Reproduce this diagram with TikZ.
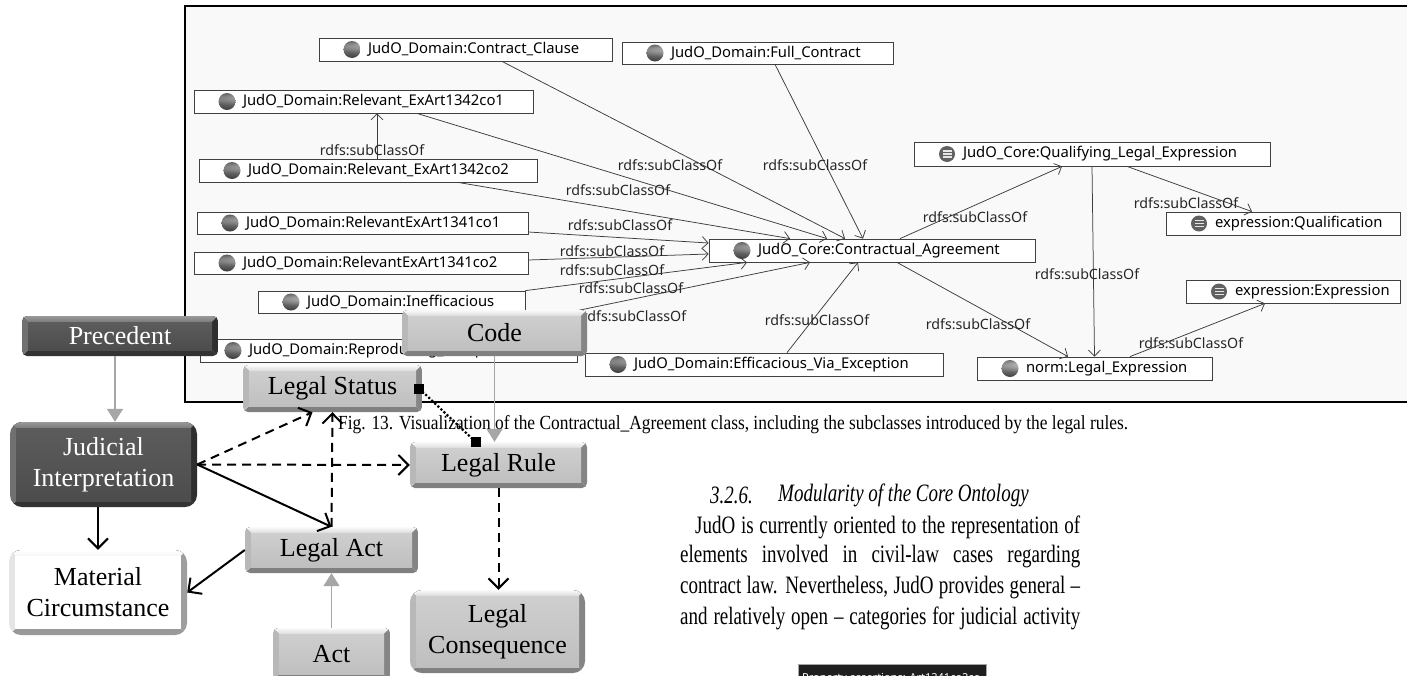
\documentclass[tikz,border=0pt]{standalone}
\usepackage{fontspec}
\setmainfont{Liberation Serif}
\newfontfamily\ontfont{Noto Sans}
\newfontfamily\narrowserif[FakeStretch=0.76]{Liberation Serif}
\usetikzlibrary{arrows.meta,calc}

\definecolor{framebg}{HTML}{F9F9F9}
\definecolor{edgegray}{HTML}{3C3C3C}

% bevel: #1 top, #2 left, #3 right, #4 bottom, #5 face
\newcommand\bevelfill[5]{%
  \coordinate (bnw) at (path picture bounding box.north west);
  \coordinate (bne) at (path picture bounding box.north east);
  \coordinate (bsw) at (path picture bounding box.south west);
  \coordinate (bse) at (path picture bounding box.south east);
  \fill[sharp corners,#1] (bnw) -- (bne) -- ([shift={(-6pt,-6pt)}]bne) -- ([shift={(6pt,-6pt)}]bnw) -- cycle;
  \fill[sharp corners,#4] (bsw) -- (bse) -- ([shift={(-6pt,6pt)}]bse) -- ([shift={(6pt,6pt)}]bsw) -- cycle;
  \fill[sharp corners,#2] (bnw) -- (bsw) -- ([shift={(6pt,6pt)}]bsw) -- ([shift={(6pt,-6pt)}]bnw) -- cycle;
  \fill[sharp corners,#3] (bne) -- (bse) -- ([shift={(-6pt,6pt)}]bse) -- ([shift={(-6pt,-6pt)}]bne) -- cycle;
  \fill[sharp corners,#5] ([shift={(6pt,-6pt)}]bnw) rectangle ([shift={(-6pt,6pt)}]bse);
}

% ontology class box: [icon] name, left, top, right, bottom, text
\newcommand\ontnode[7][ballicon]{%
  \pgfmathsetmacro\onw{#5-#3}%
  \pgfmathsetmacro\onh{#6-#4}%
  \node[ontbox,#1,minimum width=\onw pt,minimum height=\onh pt] (#2) at ({(#3+#5)/2},{(#4+#6)/2}) {\makebox[\onw pt][l]{\hspace{49pt}#7}};
}

\begin{document}
\begin{tikzpicture}[x=1pt,y=-1pt,
  ontbox/.style={draw=black!75, fill=white, line width=0.8pt, inner sep=0pt,
    font=\ontfont\fontsize{14.8}{17}\selectfont},
  ballicon/.style={path picture={\shade[ball color=black!45] ([xshift=33pt]path picture bounding box.west) circle[radius=8.5pt];}},
  eqicon/.style={path picture={
    \fill[black!62] ([xshift=33pt]path picture bounding box.west) circle[radius=8pt];
    \foreach \dy in {-3,0,3} \draw[black!10,line width=1.3pt] ([xshift=28.5pt,yshift=\dy pt]path picture bounding box.west) -- ++(9pt,0pt);}},
  lbl/.style={font=\ontfont\fontsize{14.2}{16}\selectfont, inner sep=0pt, text=black!85},
  sub/.style={draw=edgegray, line width=0.75pt, -{Straight Barb[length=6pt,width=12pt]}},
  bevbase/.style={rounded corners=5pt, inner sep=0pt, align=center,
    font=\fontsize{26}{31}\selectfont},
  lightbev/.style={bevbase, path picture={\bevelfill{top color=black!2,bottom color=black!14}{black!28}{black!48}{black!50}{top color=black!19,bottom color=black!25}}},
  darkbev/.style={bevbase, text=white, path picture={\bevelfill{top color=black!40,bottom color=black!52}{black!56}{black!82}{black!80}{top color=black!64,bottom color=black!70}}},
  whitebev/.style={bevbase, path picture={\bevelfill{top color=white,bottom color=black!4}{black!10}{black!38}{black!40}{white}}},
  blk/.style={draw=black, line width=2pt, -{Straight Barb[length=10pt,width=20pt]}},
  dsh/.style={blk, dash pattern=on 9pt off 6pt},
  gry/.style={draw=black!35, line width=1.5pt, -{Triangle[length=13pt,width=16pt]}},
  body/.style={anchor=west, inner sep=0pt, font=\narrowserif\fontsize{25}{30}\selectfont}
]
\useasboundingbox (0,0) rectangle (1407,675);
\fill[white] (0,0) rectangle (1407,675);

% ---------- ontology panel ----------
\fill[framebg] (185,6) rectangle (1412,402);
\draw[black, line width=2pt] (1412,6) -- (185,6) -- (185,402) -- (1412,402);

\ontnode{cc}{319}{38}{612}{61}{JudO\_Domain:Contract\_Clause}
\ontnode{fc}{622}{42}{893}{64}{JudO\_Domain:Full\_Contract}
\ontnode{r2a}{194}{90}{533}{113}{JudO\_Domain:Relevant\_ExArt1342co1}
\ontnode{r2b}{199}{159}{537}{182}{JudO\_Domain:Relevant\_ExArt1342co2}
\ontnode{r1a}{197}{212}{528}{234}{JudO\_Domain:RelevantExArt1341co1}
\ontnode{r1b}{194}{252}{528}{274}{JudO\_Domain:RelevantExArt1341co2}
\ontnode{ineff}{258}{291}{525}{313}{JudO\_Domain:Inefficacious}
\ontnode{repro}{200}{339}{577}{362}{JudO\_Domain:Reproducing\_Exception}
\ontnode{ca}{709}{239}{1035}{262}{JudO\_Core:Contractual\_Agreement}
\ontnode[eqicon]{qle}{914}{142}{1270}{166}{JudO\_Core:Qualifying\_Legal\_Expression}
\ontnode[eqicon]{qual}{1166}{212}{1400}{235}{expression:Qualification}
\ontnode[eqicon]{expr}{1186}{280}{1400}{303}{expression:Expression}
\ontnode{le}{977}{357}{1212}{380}{norm:Legal\_Expression}
\ontnode{eff}{585}{353}{943}{376}{JudO\_Domain:Efficacious\_Via\_Exception}

\draw[sub] ([xshift=9pt]r2b.north) -- ([xshift=13.5pt]r2a.south);
\draw[sub] ([xshift=36.5pt]cc.south) -- ([xshift=-27pt]ca.north);
\draw[sub] ([xshift=17.5pt]fc.south) -- ([xshift=-9pt]ca.north);
\draw[sub] ([xshift=53.5pt]r2a.south) -- ([xshift=-45pt]ca.north);
\draw[sub] ([xshift=90pt]r2b.south) -- ([xshift=-82pt]ca.north);
\draw[sub] ([yshift=-9pt]r1a.east) -- ([yshift=7.5pt]ca.west);
\draw[sub] ([yshift=3pt]r1b.east) -- ([yshift=-3.5pt]ca.west);
\draw[sub] (ineff.north east) -- ([xshift=-125pt]ca.south);
\draw[sub] ([xshift=53.5pt]repro.north) -- ([xshift=-62pt]ca.south);
\draw[sub] ([xshift=23pt]eff.north) -- ([xshift=-14pt]ca.south);
\draw[sub] ([xshift=28pt]ca.north) -- ([xshift=-30pt]qle.south);
\draw[sub] ([xshift=25pt]ca.south) -- ([xshift=-26.5pt]le.north);
\draw[sub] (qle.south) -- (le.north);
\draw[sub] ([xshift=35pt]qle.south) -- ([xshift=-31pt]qual.north);
\draw[sub] ([xshift=35.5pt]le.north) -- ([xshift=-28pt]expr.south);

\node[lbl] (s1) at (372,150) {rdfs:subClassOf};
\node[lbl] (s2) at (670,165) {rdfs:subClassOf};
\node[lbl] (s3) at (815,165) {rdfs:subClassOf};
\node[lbl] (s4) at (618,190) {rdfs:subClassOf};
\node[lbl] (s5) at (620,225) {rdfs:subClassOf};
\node[lbl] (s6) at (612,251) {rdfs:subClassOf};
\node[lbl] (s7) at (612,270) {rdfs:subClassOf};
\node[lbl] (s8) at (631,288) {rdfs:subClassOf};
\node[lbl] (s9) at (634,316) {rdfs:subClassOf};
\node[lbl] (s10) at (817,320) {rdfs:subClassOf};
\node[lbl] (s11) at (975,217) {rdfs:subClassOf};
\node[lbl] (s12) at (978,324) {rdfs:subClassOf};
\node[lbl] (s13) at (1087,274) {rdfs:subClassOf};
\node[lbl] (s14) at (1186,203) {rdfs:subClassOf};
\node[lbl] (s15) at (1191,343) {rdfs:subClassOf};

% ---------- caption and body text ----------
\node[anchor=west, inner sep=0pt] (cap) at (338,425) {\resizebox{790pt}{\height}{\fontsize{20}{24}\selectfont Fig. 13. Visualization of the Contractual\_Agreement class, including the subclasses introduced by the legal rules.}};
\node[body, font=\narrowserif\itshape\fontsize{25}{30}\selectfont] (h1) at (710,495) {3.2.6.};
\node[body, font=\narrowserif\itshape\fontsize{25}{30}\selectfont] (h2) at (778,495) {Modularity of the Core Ontology};
\node[body] (p1) at (695,527) {\makebox[385pt][s]{JudO is currently oriented to the representation of}};
\node[body] (p2) at (680,557) {\makebox[400pt][s]{elements involved in civil-law cases regarding}};
\node[body] (p3) at (680,588) {\makebox[400pt][s]{contract law. Nevertheless, JudO provides general –}};
\node[body] (p4) at (680,618) {\makebox[400pt][s]{and relatively open – categories for judicial activity}};

\node[anchor=north west, fill=black!88, draw=black!35, line width=1pt, minimum width=188pt, minimum height=26pt, inner sep=0pt] (pabox) at (798,664) {};
\node[anchor=base west, inner sep=0pt, text=white, font=\ontfont\fontsize{11}{13}\selectfont] (pa) at (802,681.5) {Property assertions: Art1341co2co};

% ---------- legal concept scheme ----------
\node[darkbev, minimum width=196pt, minimum height=40pt] (prec) at (120,336) {Precedent};
\node[lightbev, minimum width=185pt, minimum height=46pt] (code) at (494.5,333) {Code};
\node[lightbev, minimum width=179pt, minimum height=47pt] (lstat) at (332.5,388.5) {Legal Status};
\node[darkbev, rounded corners=12pt, minimum width=187pt, minimum height=85pt] (judi) at (103.5,464.5) {Judicial\\Interpretation};
\node[lightbev, minimum width=177pt, minimum height=46pt] (lrule) at (498.5,465) {Legal Rule};
\node[lightbev, minimum width=173pt, minimum height=46pt] (lact) at (331.5,550) {Legal Act};
\node[whitebev, rounded corners=12pt, minimum width=178pt, minimum height=85pt] (mat) at (98,592.5) {Material\\Circumstance};
\node[lightbev, minimum width=117pt, minimum height=52pt] (act) at (331.5,654) {Act};
\node[lightbev, rounded corners=12pt, minimum width=175pt, minimum height=83pt] (lcons) at (497.5,631.5) {Legal\\Consequence};

\draw[gry] ([xshift=-5pt]prec.south) -- ([xshift=-5pt]prec.south |- judi.north);
\draw[gry] (code.south) -- (code.south |- lrule.north);
\draw[gry] (act.north) -- (lact.south);
\draw[blk] (mat.north |- judi.south) -- (mat.north);
\draw[blk] (lact.west) -- (mat.east);
\draw[blk] (judi.east) -- (lact.north);
\draw[dsh] (judi.east) -- ([xshift=-20pt]lstat.south);
\draw[dsh] (judi.east) -- (lrule.west);
\draw[dsh] (lact.north) -- (lstat.south);
\draw[dsh] (lrule.south) -- (lrule.south |- lcons.north);

\coordinate (sq1) at ([xshift=-3pt]lstat.east);
\coordinate (sq2) at ([xshift=-23pt]lrule.north);
\draw[line width=2.2pt, dotted] (sq1) -- (sq2);
\fill ([shift={(-5pt,-5pt)}]sq1) rectangle ([shift={(5pt,5pt)}]sq1);
\fill ([shift={(-5pt,-5pt)}]sq2) rectangle ([shift={(5pt,5pt)}]sq2);
\end{tikzpicture}
\end{document}
